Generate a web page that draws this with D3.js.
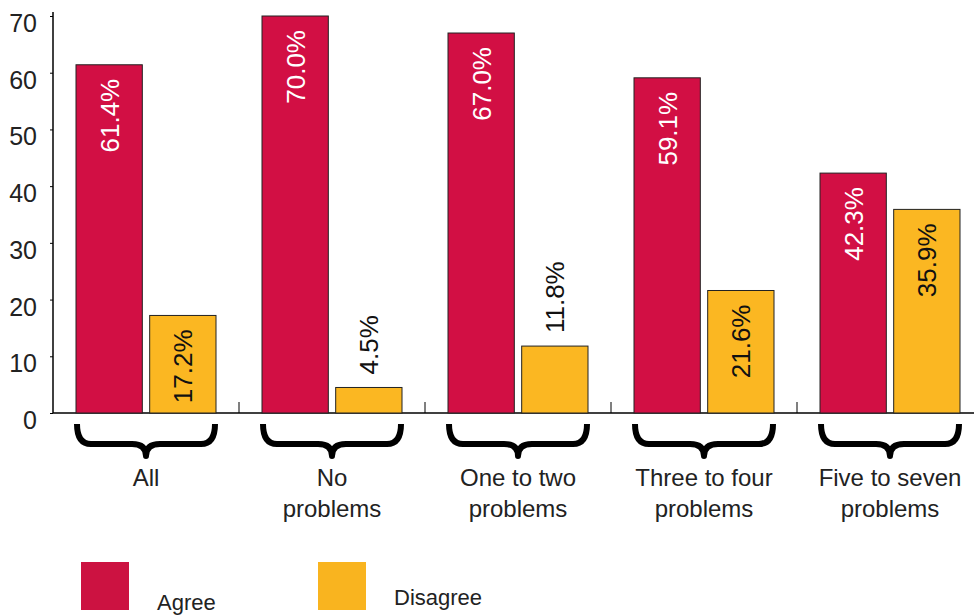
<!DOCTYPE html>
<html><head><meta charset="utf-8">
<script src="https://cdn.jsdelivr.net/npm/d3@7"></script>
<style>body{margin:0;background:#fff}svg{display:block}text{font-family:"Liberation Sans",Arial,sans-serif}</style>
</head><body><svg id="c" width="974" height="616"></svg>
<script>
const categories = ["All","No problems","One to two problems","Three to four problems","Five to seven problems"];
const categoryLines = [["All"],["No","problems"],["One to two","problems"],["Three to four","problems"],["Five to seven","problems"]];
const seriesNames = ["Agree","Disagree"];
const agree = [61.4,70.0,67.0,59.1,42.3];
const disagree = [17.2,4.5,11.8,21.6,35.9];
const yTicks = [0,10,20,30,40,50,60,70];

const svg = d3.select("#c");
const x0 = 53, yBase = 413;
const x = d3.scaleBand().domain(categories).range([x0, x0 + 5*186]).paddingInner(0).paddingOuter(0);
const xs = d3.scaleBand().domain(seriesNames).range([23, 163]).paddingInner(0.1).paddingOuter(0);
const y = d3.scaleLinear().domain([0,70]).range([yBase, 16]);
const color = d3.scaleOrdinal().domain(seriesNames).range(["#D20F44","#FBB722"]);
const legendColor = d3.scaleOrdinal().domain(seriesNames).range(["#CC1241","#F9B41F"]);

// y axis
const ya = svg.append("g").attr("transform",`translate(${x0},0)`)
  .call(d3.axisLeft(y).tickValues(yTicks).tickSize(3).tickPadding(13).tickFormat(d3.format("d")));
ya.select(".domain").remove();
ya.selectAll(".tick line").attr("stroke","#000");
ya.selectAll("text").attr("font-size",25).attr("fill","#222").attr("dy","0.62em");
svg.append("line").attr("x1",x0).attr("x2",x0).attr("y1",12).attr("y2",yBase).attr("stroke","#000").attr("stroke-width",1.5);
svg.append("line").attr("x1",x0).attr("x2",974).attr("y1",yBase).attr("y2",yBase).attr("stroke","#000").attr("stroke-width",1.5);
// x group separator ticks
svg.selectAll(".sep").data(categories.slice(1)).join("line")
  .attr("x1",d=>x(d)).attr("x2",d=>x(d)).attr("y1",yBase-11).attr("y2",yBase).attr("stroke","#000").attr("stroke-width",1);

const data = categories.map((c,i)=>({c, vals:[{s:"Agree",v:agree[i]},{s:"Disagree",v:disagree[i]}]}));
const g = svg.selectAll(".grp").data(data).join("g").attr("transform",d=>`translate(${x(d.c)},0)`);
g.selectAll("rect").data(d=>d.vals).join("rect")
  .attr("x",d=>xs(d.s)).attr("width",xs.bandwidth())
  .attr("y",d=>y(d.v)).attr("height",d=>yBase-y(d.v))
  .attr("fill",d=>color(d.s)).attr("stroke","#222").attr("stroke-width",1);
g.selectAll("text.val").data(d=>d.vals).join("text").attr("class","val")
  .attr("transform",d=>{
    const cx = xs(d.s)+xs.bandwidth()/2;
    const inside = d.v > 15;
    const ty = inside ? y(d.v)+14 : y(d.v)-13;
    return `translate(${cx},${ty}) rotate(-90)`;
  })
  .attr("text-anchor",d=>d.v>15?"end":"start")
  .attr("dy","0.36em")
  .attr("font-size",26)
  .attr("fill",d=>d.s==="Agree"?"#fff":"#111")
  .text(d=>d.v.toFixed(1)+"%");

// braces
const brace = (a,b,t)=>{
  const m=(a+b)/2, h=20, p=32;
  return `M${a},${t} Q${a},${t+h} ${a+14},${t+h} L${m-14},${t+h} Q${m},${t+h} ${m},${t+p} Q${m},${t+h} ${m+14},${t+h} L${b-14},${t+h} Q${b},${t+h} ${b},${t}`;
};
g.append("path").attr("d",()=>brace(xs("Agree")+1, xs("Disagree")+xs.bandwidth()-1, 424))
  .attr("fill","none").attr("stroke","#000").attr("stroke-width",6).attr("stroke-linejoin","round");
g.append("text").attr("text-anchor","middle").attr("font-size",24).attr("fill","#222")
  .attr("x",93)
  .selectAll("tspan").data((d,i)=>categoryLines[i]).join("tspan")
  .attr("x",93).attr("y",(d,i)=>486+i*31).text(d=>d);

// legend
const legX = [81,318], legTY=[610,605];
const lg = svg.selectAll(".leg").data(seriesNames).join("g");
lg.append("rect").attr("x",(d,i)=>legX[i]).attr("y",562).attr("width",48).attr("height",48).attr("fill",d=>legendColor(d));
lg.append("text").attr("x",(d,i)=>legX[i]+76).attr("y",(d,i)=>legTY[i]).attr("font-size",22).attr("fill","#222").text(d=>d);
</script></body></html>
